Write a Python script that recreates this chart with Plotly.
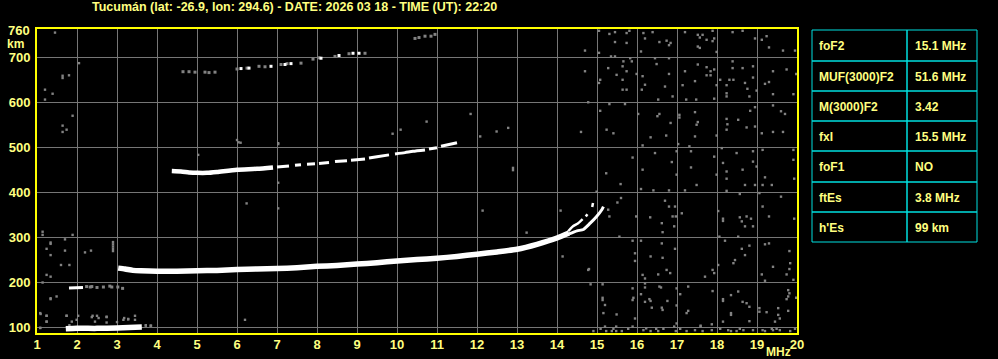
import plotly.graph_objects as go

# ---------------- data ----------------
title_text = "Tucumán (lat: -26.9, lon: 294.6) - DATE: 2026 03 18 - TIME (UT): 22:20"

x_ticks = list(range(1, 21))
y_ticks = [100, 200, 300, 400, 500, 600, 700]

table_labels = ["foF2", "MUF(3000)F2", "M(3000)F2", "fxI", "foF1", "ftEs", "h'Es"]
table_values = ["15.1 MHz", "51.6 MHz", "3.42", "15.5 MHz", "NO", "3.8 MHz", "99 km"]

# sporadic E (first order) and its second hop
es_f = [1.72, 2.0, 2.5, 3.0, 3.3, 3.62]
es_h = [97, 98, 98, 99, 100, 101]
es2_f = [1.8, 2.15]
es2_h = [188, 189]
es2_dots_f = [2.24, 2.33, 2.37, 2.5, 2.66, 2.82, 2.87, 3.02, 3.14]
es2_dots_h = [191, 190, 191, 189, 190, 192, 190, 190, 187]

# F trace (first hop)
f1_f = [3.03, 3.2, 3.4, 3.6, 4.0, 4.5, 5.0, 5.5, 6.0, 6.5, 7.0, 7.5, 8.0, 8.5,
        9.0, 9.5, 10.0, 10.5, 11.0, 11.5, 12.0, 12.5, 13.0, 13.5, 14.0, 14.3]
f1_h = [232, 230, 227, 226, 225, 225, 226, 227, 229, 230, 231, 233, 236, 238,
        241, 244, 248, 251, 254, 258, 263, 268, 274, 285, 299, 310]
o_f = [14.28, 14.4, 14.53, 14.64, None, 14.72, 14.76, None, 14.88, 14.9]
o_h = [314, 325, 332, 341, None, 347, 352, None, 368, 377]
x_f = [14.3, 14.5, 14.66, 14.83, 14.99, 15.12, 15.16]
x_h = [308, 315, 318, 332, 347, 362, 369]

# second hop F
hop2a_f = [4.37, 4.6, 4.8, 5.0, 5.25, 5.5, 6.0, 6.5, 6.9]
hop2a_h = [448, 447, 445, 444, 444, 446, 451, 453, 456]
hop2b_f = [7.0, 7.3, None, 7.45, 7.6, None, 7.75, 7.95, None, 8.05, 8.3, None,
           8.45, 8.75, None, 8.85, 9.2, None, 9.3, 9.5, 9.8, None, 9.95, 10.2,
           10.4, 10.7, None, 10.8, 11.0, None, 11.1, 11.3, 11.5]
hop2b_h = [457, 459, None, 461, 462, None, 463, 464, None, 465, 467, None,
           469, 471, None, 472, 475, None, 477, 480, 484, None, 486, 489,
           492, 495, None, 497, 500, None, 503, 507, 511]

# third hop F (sparse dots)
hop3_grey_f = [4.65, 4.8, 4.95, 5.2, 5.3, 5.45, 6.0, 6.25, 6.55, 6.7, 7.1, 7.25,
               7.6, 7.9, 8.05, 8.45, 8.8, 9.2, 10.45, 10.55, 10.7, 10.85, 10.95]
hop3_grey_h = [669, 669, 668, 668, 667, 668, 675, 677, 681, 680, 685, 687,
               688, 697, 700, 703, 709, 710, 743, 745, 748, 748, 752]
hop3_white_f = [6.1, 6.3, 6.85, 7.2, 7.35, 8.1, 8.55, 8.9, 9.05]
hop3_white_h = [676, 677, 681, 685, 687, 699, 705, 710, 710]

# scattered grey noise echoes
noise_f = [
    15.05, 15.31, 15.45, 15.74, 15.81, 16.16, 16.39, 16.2, 16.74, 16.84, 16.8, 17.2,
    17.52, 17.57, 17.52, 17.57, 17.64, 17.74, 17.89, 17.93, 17.89, 17.99, 18.39, 18.64,
    18.95, 19.12, 19.24, 19.3, 19.65, 19.95, 15.45, 15.74, 15.35, 15.45, 15.83, 15.66,
    16.1, 16.45, 16.49, 16.8, 14.7, 15.05, 16.56,
    15.28, 15.64, 15.74, 15.87, 14.7, 15.08, 15.05, 15.49, 15.64, 15.64, 15.74, 15.99,
    16.14, 16.12, 16.2, 16.7, 16.8, 17.14, 17.2, 17.45, 17.52, 17.74, 17.84, 17.84,
    17.74, 17.93, 17.99, 18.08, 18.24, 18.24, 18.39, 18.39, 18.31, 18.41, 18.64, 18.7,
    18.9, 18.9, 18.81, 19.2, 19.3, 19.4, 19.4, 19.74, 19.91, 19.98, 18.24, 18.76,
    18.99, 16.53, 16.89, 17.23, 17.48, 17.93,
    14.78, 15.08, 15.31, 15.7, 16.03, 16.51, 16.56, 16.84, 17.06, 17.06, 17.45, 17.49,
    17.52, 17.45, 17.99, 18.24, 18.26, 18.24, 18.53, 18.74, 18.95, 18.95, 18.83, 19.4,
    19.6, 19.7, 19.12, 19.4, 19.65, 16.14, 16.34, 16.73, 17.31, 14.6, 15.24, 15.41,
    17.03,
    15.89, 16.45, 16.14, 16.87, 16.99, 16.99, 17.35, 17.35, 17.49, 17.93, 17.99, 18.12,
    18.15, 18.24, 18.24, 18.49, 18.64, 18.9, 18.9, 18.99, 19.14, 19.2, 19.37, 19.91,
    19.91, 15.23, 15.59, 16.1, 16.41, 16.8, 17.2, 18.24, 18.57, 18.7, 18.95, 19.14,
    19.93,
    16.7, 16.8, 16.95, 17.12, 15.98, 16.33, 16.62, 16.64, 16.89, 16.93, 16.97, 18.03,
    18.15, 18.15, 18.62, 18.7, 18.74, 18.85, 18.9, 19.14, 19.3, 19.6, 19.93, 19.06,
    15.56, 15.28, 15.31, 15.51, 18.06, 18.2, 18.53, 18.57,
    15.89, 15.95, 15.95, 16.1, 16.34, 16.62, 16.64, 16.74, 16.83, 16.95, 16.53, 16.14,
    16.2, 14.78, 18.03, 18.41, 18.45, 18.62, 18.7, 18.81, 19.2, 19.3, 19.4, 19.81,
    19.83, 19.81, 19.74, 17.7, 17.89, 17.93, 19.12, 19.2, 19.91, 14.84, 15.14,
    15.14, 15.14, 15.2, 15.16, 15.49, 15.89, 15.91, 15.89, 16.1, 16.2, 16.2, 16.2,
    16.31, 16.34, 16.37, 16.56, 16.6, 16.62, 16.64, 16.76, 16.99, 16.99, 17.08, 17.28,
    17.28, 17.24, 17.89, 18.15, 18.15, 18.35, 18.35, 18.35, 18.53, 18.64, 18.74, 18.81,
    19.06, 19.06, 19.45, 19.53, 19.53, 19.57, 19.78, 19.81, 19.78, 19.74, 19.78, 19.98,
    15.95, 16.99, 17.59, 17.87, 18.15, 18.81, 19.24,
    14.91, 15.09, 15.2, 15.23, 15.37, 15.41, 15.48, 15.48, 15.62, 15.78, 15.89, 16.16,
    16.23, 16.34, 16.48, 16.53, 16.66, 16.93, 16.97, 17.08, 17.24, 17.45, 17.59, 17.64,
    17.87, 18.08, 18.28, 18.35, 18.49, 18.57, 18.66, 18.9, 19.14, 19.2, 19.37, 19.4,
    19.49, 19.57, 19.83, 19.95,
    1.45, 2.05, 1.8, 1.64, 1.64, 1.2, 1.39, 1.2, 1.89, 1.64, 1.74, 1.64,
    1.14, 1.14, 1.89, 1.7, 1.34, 1.34, 1.24, 1.7, 2.2, 2.35, 1.34, 1.6,
    1.81, 1.24, 1.34, 1.14, 1.34, 1.34, 1.49, 1.08, 1.24, 1.24, 1.74, 1.08,
    12.14, 14.09, 13.24, 14.14, 14.8, 14.99, 6.24, 7.03, 7.03, 7.03, 6.09, 5.03,
    11.84, 12.9, 12.9, 10.74, 9.89, 10.09, 6.0, 6.04, 7.03, 6.2, 2.9, 2.9,
    2.9, 2.9, 2.9, 12.08, 12.49, 12.78, 15.6,
    1.81, 1.99, 2.37, 2.54, 2.74, 3.16, 3.28, 3.72, 3.85, 1.09, 1.24, 1.24,
    1.74, 2.03, 2.39, 2.5, 2.74, 3.18, 3.28, 3.45, 3.45, 1.87, 2.45, 2.74,
    3.0, 3.84, 3.72, 1.08,
]
noise_h = [
    760, 753, 757, 755, 760, 755, 757, 743, 738, 733, 728, 757,
    751, 745, 725, 722, 751, 740, 760, 743, 737, 713, 757, 760,
    743, 740, 748, 723, 716, 716, 735, 733, 703, 703, 699, 692,
    714, 699, 686, 699, 716, 711, 735,
    677, 681, 670, 692, 670, 651, 644, 662, 651, 629, 629, 664,
    659, 629, 640, 636, 664, 639, 670, 648, 685, 679, 670, 661,
    661, 674, 639, 651, 621, 614, 692, 677, 651, 651, 677, 644,
    681, 656, 614, 642, 646, 670, 619, 674, 619, 664, 639, 631,
    627, 607, 614, 607, 607, 609,
    601, 582, 597, 597, 575, 570, 575, 555, 573, 567, 579, 551,
    557, 525, 527, 564, 552, 540, 562, 545, 547, 590, 582, 594,
    581, 575, 532, 535, 535, 505, 523, 527, 503, 535, 540, 532,
    508,
    478, 488, 451, 468, 492, 440, 492, 456, 417, 480, 440, 499,
    466, 447, 431, 488, 451, 492, 469, 458, 495, 434, 417, 495,
    473, 443, 419, 408, 405, 405, 405, 404, 397, 417, 417, 417,
    431,
    382, 369, 369, 354, 347, 345, 332, 312, 347, 325, 347, 359,
    342, 337, 336, 325, 347, 342, 325, 369, 347, 391, 342, 399,
    302, 362, 347, 378, 302, 293, 302, 345,
    293, 265, 248, 293, 258, 287, 255, 228, 221, 275, 218, 217,
    209, 228, 239, 243, 250, 275, 261, 282, 285, 287, 235, 270,
    243, 230, 218, 213, 228, 221, 218, 204, 206, 196, 196,
    166, 161, 150, 132, 129, 187, 166, 161, 174, 198, 189, 157,
    163, 159, 144, 191, 189, 144, 139, 159, 187, 149, 174, 191,
    137, 132, 181, 163, 159, 172, 132, 128, 180, 157, 154, 146,
    143, 135, 113, 143, 128, 120, 183, 176, 169, 163, 137, 166,
    120, 109, 104, 107, 113, 114, 134,
    92, 97, 102, 92, 92, 97, 102, 92, 92, 97, 102, 94,
    98, 92, 97, 92, 97, 102, 92, 97, 92, 94, 102, 92,
    94, 97, 94, 92, 92, 97, 94, 94, 94, 92, 97, 94,
    97, 94, 92, 97,
    756, 688, 661, 655, 660, 629, 620, 607, 571, 549, 540, 535,
    313, 306, 306, 296, 286, 289, 275, 271, 267, 271, 261, 239,
    239, 217, 213, 200, 163, 165, 169, 132, 126, 113, 126, 99,
    360, 360, 311, 258, 230, 402, 376, 365, 422, 508, 511, 484,
    575, 450, 455, 558, 531, 540, 517, 512, 510, 117, 270, 275,
    280, 285, 290, 525, 536, 544, 388,
    105, 117, 123, 121, 123, 117, 118, 104, 104, 130, 126, 113,
    126, 126, 126, 126, 124, 121, 119, 117, 126, 113, 113, 111,
    112, 104, 105, 99,
]

# ---------------- layout geometry helpers (pixels -> paper) ----------------
L, R, T, B = 37, 797, 29, 333
W, H = 998, 359


def px(xp):
    return (xp - L) / (R - L)


def py(yp):
    return (B - yp) / (B - T)


YELLOW = "#ffff00"
TXT = "#ffff80"
CYAN = "#00e0e0"
GRID = "#767676"
NOISE = "#828282"
FONT = "Liberation Sans"

fig = go.Figure()

fig.add_trace(go.Scatter(x=noise_f, y=noise_h, mode="markers",
                         marker=dict(symbol="square", size=2.4, color=NOISE, line=dict(width=0)),
                         hoverinfo="skip"))
fig.add_trace(go.Scatter(x=hop3_grey_f, y=hop3_grey_h, mode="markers",
                         marker=dict(symbol="square", size=3, color=NOISE, line=dict(width=0))))
fig.add_trace(go.Scatter(x=hop3_white_f, y=hop3_white_h, mode="markers",
                         marker=dict(symbol="square", size=3, color="white", line=dict(width=0))))
fig.add_trace(go.Scatter(x=es2_dots_f, y=es2_dots_h, mode="markers",
                         marker=dict(symbol="square", size=3, color=NOISE, line=dict(width=0))))

for xs, ys, w in [(es_f, es_h, 5.5), (es2_f, es2_h, 3), (f1_f, f1_h, 5.5),
                  (o_f, o_h, 2.5), (x_f, x_h, 3), (hop2a_f, hop2a_h, 4.5),
                  (hop2b_f, hop2b_h, 3)]:
    fig.add_trace(go.Scatter(x=xs, y=ys, mode="lines", connectgaps=False,
                             line=dict(color="white", width=w, shape="spline", smoothing=0.6)))

shapes = []
annotations = []

# title
annotations.append(dict(text=title_text, x=px(294), y=py(7), xref="paper", yref="paper",
                        showarrow=False, xanchor="center", yanchor="middle",
                        font=dict(family=FONT, size=12.5, color=TXT, weight="bold")))
# y extra labels
annotations.append(dict(text="760", x=px(32), y=py(31), xref="paper", yref="paper",
                        showarrow=False, xanchor="right", yanchor="middle",
                        font=dict(family=FONT, size=13, color=TXT, weight="bold")))
annotations.append(dict(text="km", x=px(5), y=py(44), xref="paper", yref="paper",
                        showarrow=False, xanchor="left", yanchor="middle",
                        font=dict(family=FONT, size=12, color=TXT, weight="bold")))
annotations.append(dict(text="MHz", x=px(793), y=py(352), xref="paper", yref="paper",
                        showarrow=False, xanchor="right", yanchor="middle",
                        font=dict(family=FONT, size=12, color=TXT, weight="bold")))

# parameter table
row_edges = [30, 61, 91, 121, 151, 182, 212, 242]
col_l, col_m, col_r = 812, 907, 977
for i in range(len(table_labels)):
    y0, y1 = row_edges[i], row_edges[i + 1]
    for a, b in [(col_l, col_m), (col_m, col_r)]:
        shapes.append(dict(type="rect", xref="paper", yref="paper",
                           x0=px(a), x1=px(b), y0=py(y1), y1=py(y0),
                           line=dict(color=CYAN, width=1), fillcolor="rgba(0,0,0,0)"))
    ym = py((y0 + y1) / 2 + 0.5)
    annotations.append(dict(text=table_labels[i], x=px(col_l + 5), y=ym, xref="paper", yref="paper",
                            showarrow=False, xanchor="left", yanchor="middle",
                            font=dict(family=FONT, size=12, color=TXT, weight="bold")))
    annotations.append(dict(text=table_values[i], x=px(col_m + 6), y=ym, xref="paper", yref="paper",
                            showarrow=False, xanchor="left", yanchor="middle",
                            font=dict(family=FONT, size=12, color=TXT, weight="bold")))

fig.update_layout(
    width=W, height=H,
    margin=dict(l=L, r=W - R, t=T, b=H - B, pad=0, autoexpand=False),
    paper_bgcolor="black", plot_bgcolor="black",
    showlegend=False,
    shapes=shapes, annotations=annotations,
    xaxis=dict(range=[1, 20], tickvals=x_ticks, ticktext=[str(v) for v in x_ticks],
               showgrid=True, gridcolor=GRID, gridwidth=1, zeroline=False,
               showline=True, linecolor=YELLOW, linewidth=2, mirror=True,
               ticks="", ticklabelstandoff=-2, automargin=False,
               tickfont=dict(family=FONT, size=13, color=TXT, weight="bold")),
    yaxis=dict(range=[87.7, 764], tickvals=y_ticks, ticktext=[str(v) for v in y_ticks],
               showgrid=True, gridcolor=GRID, gridwidth=1, zeroline=False,
               showline=True, linecolor=YELLOW, linewidth=2, mirror=True,
               ticks="", ticklabelstandoff=2, automargin=False,
               tickfont=dict(family=FONT, size=13, color=TXT, weight="bold")),
)

fig.write_html("out.html", config={"responsive": False})
